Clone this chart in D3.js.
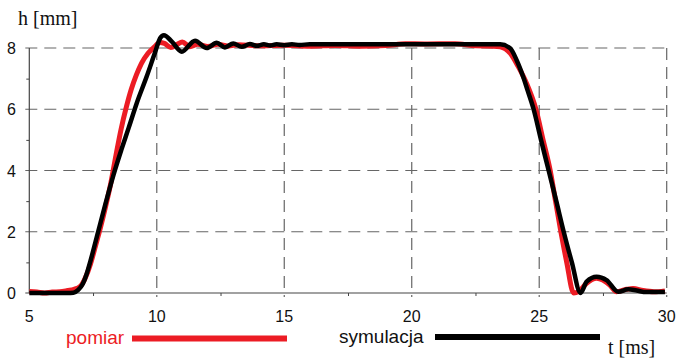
<!DOCTYPE html>
<html>
<head>
<meta charset="utf-8">
<script src="https://cdn.jsdelivr.net/npm/d3@7"></script>
<style>
  body { margin: 0; background: #fff; }
  .tickLabel { font-family: Arial, "Liberation Sans", sans-serif; font-size: 16px; fill: #111; }
  .unit { font-family: "Times New Roman", "Liberation Serif", serif; font-size: 20px; fill: #111; }
  .legend { font-family: Arial, "Liberation Sans", sans-serif; font-size: 19px; }
</style>
</head>
<body>
<div id="chart"></div>
<script>
// chart values
const xTicks = [5, 10, 15, 20, 25, 30];
const yTicks = [0, 2, 4, 6, 8];
const xMinor = [7.5, 12.5, 17.5, 22.5, 27.5];
const yMinor = [1, 3, 5, 7];

// measured curve (pomiar): [t ms, h mm]
const pomiar = [
  [5.0, 0.05], [5.3, 0.03], [5.6, 0.0], [5.9, 0.03], [6.2, 0.04], [6.5, 0.08], [6.75, 0.12],
  [7.0, 0.22], [7.2, 0.5], [7.4, 0.95], [7.6, 1.55], [7.78, 2.1], [8.0, 2.85], [8.2, 3.6],
  [8.4, 4.5], [8.6, 5.35], [8.8, 6.05], [9.0, 6.65], [9.2, 7.12], [9.4, 7.5], [9.65, 7.82],
  [9.9, 8.03], [10.12, 8.18], [10.3, 8.15], [10.55, 8.02], [10.8, 8.12], [11.0, 8.2],
  [11.3, 8.04], [11.6, 8.12], [12.0, 8.05], [12.4, 8.12], [12.8, 8.06], [13.2, 8.11],
  [14.0, 8.07], [15.0, 8.09], [16.0, 8.06], [17.0, 8.08], [18.0, 8.06], [19.0, 8.08],
  [19.75, 8.14], [20.5, 8.13], [21.7, 8.14], [22.5, 8.07], [23.2, 8.06],
  [23.47, 8.04], [23.86, 7.83], [24.18, 7.39], [24.5, 6.85], [24.87, 6.0], [25.15, 5.0],
  [25.43, 4.0], [25.64, 3.0], [25.85, 2.0], [26.08, 1.0], [26.35, 0.0], [26.55, 0.05],
  [26.86, 0.32], [27.25, 0.48], [27.77, 0.26], [28.03, 0.04], [28.42, 0.12], [28.68, 0.15],
  [29.07, 0.08], [29.5, 0.04], [29.93, 0.07]
];

// simulated curve (symulacja): [t ms, h mm]
const symulacja = [
  [5.0, 0.0], [6.5, 0.0], [6.73, 0.01], [6.92, 0.1], [7.1, 0.3], [7.25, 0.62], [7.4, 1.05],
  [7.7, 2.0], [8.0, 2.95], [8.3, 3.85], [8.62, 4.7], [8.9, 5.4], [9.21, 6.19], [9.6, 7.06],
  [9.93, 7.85], [10.13, 8.32], [10.28, 8.42], [10.6, 8.2], [10.98, 7.88],
  [11.5, 8.24], [11.96, 8.0], [12.35, 8.17], [12.67, 8.02], [13.0, 8.15], [13.33, 8.04],
  [13.65, 8.13], [13.92, 8.07], [14.2, 8.12], [14.45, 8.08], [14.7, 8.12], [15.0, 8.09],
  [15.3, 8.12], [15.6, 8.1], [16.0, 8.12], [23.47, 8.12], [23.86, 7.99], [24.11, 7.61],
  [24.37, 7.06], [24.55, 6.6], [24.78, 6.0], [25.07, 5.0], [25.37, 4.0], [25.67, 3.0],
  [25.96, 2.0], [26.28, 1.0], [26.62, 0.0], [26.86, 0.37], [27.25, 0.53], [27.64, 0.42],
  [28.1, 0.04], [28.49, 0.12], [28.82, 0.08], [29.2, 0.03], [29.93, 0.03]
];

const width = 677, height = 358;
const red = '#ec1c24';

const svg = d3.select('#chart').append('svg')
  .attr('width', width)
  .attr('height', height);

const x = d3.scaleLinear().domain([5, 30]).range([29.3, 666.7]);
const y = d3.scaleLinear().domain([0, 8]).range([293, 48]);

// grid
svg.append('g').selectAll('line')
  .data(yTicks.filter(d => d > 0))
  .enter().append('line')
  .attr('x1', x(5) - 4).attr('x2', x(30))
  .attr('y1', d => y(d)).attr('y2', d => y(d))
  .style('stroke', '#666').style('stroke-width', 1.2)
  .style('stroke-dasharray', '12,7');

svg.append('g').selectAll('line')
  .data(xTicks.filter(d => d > 5))
  .enter().append('line')
  .attr('x1', d => x(d)).attr('x2', d => x(d))
  .attr('y1', y(8)).attr('y2', y(0) + 4)
  .style('stroke', '#666').style('stroke-width', 1.2)
  .style('stroke-dasharray', '12,7');

// axes
let yAxis = d3.axisLeft(y).tickValues(yMinor).tickSize(3).tickFormat('');
svg.append('g')
   .attr('transform', `translate(${x(5)},0)`)
   .call(yAxis)
   .call(g => g.select('.domain').remove());

let xAxis = d3.axisBottom(x).tickValues(xMinor).tickSize(3).tickFormat('');
svg.append('g')
   .attr('transform', `translate(0,${y(0)})`)
   .call(xAxis)
   .call(g => g.select('.domain').remove());

svg.selectAll('.tick line').style('stroke', '#444');

svg.append('line')
   .attr('x1', x(5)).attr('x2', x(5))
   .attr('y1', y(8)).attr('y2', y(0))
   .style('stroke', '#444').style('stroke-width', 1.2);

svg.append('line')
   .attr('x1', x(5) - 4).attr('x2', x(30))
   .attr('y1', y(0)).attr('y2', y(0))
   .style('stroke', '#444').style('stroke-width', 1.2);

// tick labels
svg.selectAll('text.yLabel')
   .data(yTicks)
   .enter().append('text')
   .attr('class', 'tickLabel yLabel')
   .attr('x', 16)
   .attr('y', d => y(d) + 6)
   .style('text-anchor', 'end')
   .text(d => d);

svg.selectAll('text.xLabel')
   .data(xTicks)
   .enter().append('text')
   .attr('class', 'tickLabel xLabel')
   .attr('x', d => x(d))
   .attr('y', 322)
   .style('text-anchor', 'middle')
   .text(d => d);

// curves
let line = d3.line()
  .x(d => x(d[0]))
  .y(d => y(d[1]))
  .curve(d3.curveMonotoneX);

svg.append('path')
   .datum(pomiar)
   .attr('d', line)
   .style('fill', 'none')
   .style('stroke', red)
   .style('stroke-width', 5)
   .style('stroke-linejoin', 'round');

svg.append('path')
   .datum(symulacja)
   .attr('d', line)
   .style('fill', 'none')
   .style('stroke', '#000')
   .style('stroke-width', 4.5)
   .style('stroke-linejoin', 'round');

// unit labels
svg.append('text').attr('class', 'unit').attr('x', 18).attr('y', 25).text('h [mm]');
svg.append('text').attr('class', 'unit').attr('x', 608).attr('y', 354).text('t [ms]');

// legend
svg.append('text').attr('class', 'legend')
   .attr('x', 66).attr('y', 344)
   .style('fill', red)
   .text('pomiar');
svg.append('line')
   .attr('x1', 132).attr('x2', 287)
   .attr('y1', 338.5).attr('y2', 338.5)
   .style('stroke', red).style('stroke-width', 6);

svg.append('text').attr('class', 'legend')
   .attr('x', 339).attr('y', 343)
   .style('fill', '#111')
   .text('symulacja');
svg.append('line')
   .attr('x1', 435).attr('x2', 600)
   .attr('y1', 337).attr('y2', 337)
   .style('stroke', '#000').style('stroke-width', 6);
</script>
</body>
</html>
